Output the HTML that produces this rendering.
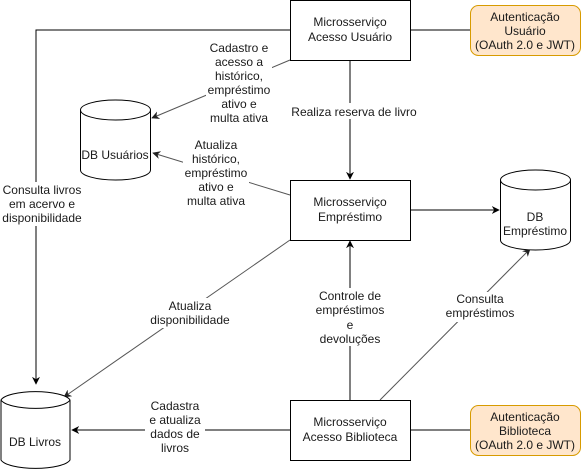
<!DOCTYPE html>
<html><head><meta charset="utf-8"><style>
html,body{margin:0;padding:0;background:#fff}
svg{display:block}
text{font-family:"Liberation Sans",Helvetica,Arial,sans-serif;font-size:12px;fill:#1a1a1a}
</style></head><body>
<svg width="581" height="471" viewBox="0 0 581 471" xmlns="http://www.w3.org/2000/svg">
<defs>
<marker id="a" viewBox="0 0 10 10" refX="9" refY="5" markerWidth="8" markerHeight="8" orient="auto" markerUnits="userSpaceOnUse"><path d="M0,0 L10,5 L0,10 L3,5 z" fill="#000"/></marker>
<marker id="g" viewBox="0 0 10 10" refX="9" refY="5" markerWidth="8" markerHeight="8" orient="auto" markerUnits="userSpaceOnUse"><path d="M0,0 L10,5 L0,10 L3,5 z" fill="#222"/></marker>
</defs>
<g fill="none" stroke="#000" stroke-width="1">
<path d="M410,30 H470"/>
<path d="M290,30 H36 V384" marker-end="url(#a)"/>
<path d="M350,60 V179" marker-end="url(#a)"/>
<path d="M410,210 H499" marker-end="url(#a)"/>
<path d="M350,400 V241" marker-end="url(#a)"/>
<path d="M290,430 H72" marker-end="url(#a)"/>
<path d="M410,430 H470"/>
</g>
<g fill="none" stroke="#555" stroke-width="1">
<path d="M290,60 L152,118" marker-end="url(#g)"/>
<path d="M290,195 L153,153" marker-end="url(#g)"/>
<path d="M290,240 L64,397" marker-end="url(#g)"/>
<path d="M380,400 L530,249" marker-end="url(#g)"/>
</g>
<!-- boxes -->
<rect x="290.5" y="0.5" width="120" height="60" fill="#fff" stroke="#000"/>
<rect x="290.5" y="180.5" width="120" height="60" fill="#fff" stroke="#000"/>
<rect x="290.5" y="400.5" width="120" height="60" fill="#fff" stroke="#000"/>
<rect x="470.5" y="5.5" width="110" height="50" rx="8" fill="#ffe6cc" stroke="#d79b00"/>
<rect x="470.5" y="405.5" width="110" height="50" rx="8" fill="#ffe6cc" stroke="#d79b00"/>
<!-- cylinders -->
<g fill="#fff" stroke="#000">
<path d="M80.5,110 A35,10 0 0 1 150.5,110 V170 A35,10 0 0 1 80.5,170 Z"/>
<path d="M80.5,110 A35,10 0 0 0 150.5,110" fill="none"/>
<path d="M500.5,180 A35,10 0 0 1 570.5,180 V240 A35,10 0 0 1 500.5,240 Z"/>
<path d="M500.5,180 A35,10 0 0 0 570.5,180" fill="none"/>
<path d="M1,400 A35,10 0 0 1 70,400 V460 A35,10 0 0 1 1,460 Z"/>
<path d="M1,400 A35,10 0 0 0 70,400" fill="none"/>
</g>
<g text-anchor="middle">
<text x="350" y="26">Microsserviço</text><text x="350" y="41">Acesso Usuário</text>
<text x="350" y="206">Microsserviço</text><text x="350" y="221">Empréstimo</text>
<text x="350" y="426">Microsserviço</text><text x="350" y="441">Acesso Biblioteca</text>
<text x="525" y="21">Autenticação</text><text x="525" y="35">Usuário</text><text x="525" y="49">(OAuth 2.0 e JWT)</text>
<text x="525" y="421">Autenticação</text><text x="525" y="435">Biblioteca</text><text x="525" y="449">(OAuth 2.0 e JWT)</text>
<text x="115" y="159">DB Usuários</text>
<text x="535" y="221">DB</text><text x="535" y="235">Empréstimo</text>
<text x="35" y="446">DB Livros</text>
</g>
<g text-anchor="middle">
<rect x="206" y="40" width="66" height="86" fill="#fff"/>
<text x="239" y="52">Cadastro e</text><text x="239" y="66">acesso a</text><text x="239" y="80">histórico,</text><text x="239" y="94">empréstimo</text><text x="239" y="108">ativo e</text><text x="239" y="122">multa ativa</text>
<rect x="183" y="137" width="66" height="72" fill="#fff"/>
<text x="216" y="149">Atualiza</text><text x="216" y="163">histórico,</text><text x="216" y="177">empréstimo</text><text x="216" y="191">ativo e</text><text x="216" y="205">multa ativa</text>
<rect x="290" y="103" width="128" height="16" fill="#fff"/>
<text x="354" y="116">Realiza reserva de livro</text>
<rect x="0" y="182" width="84" height="44" fill="#fff"/>
<text x="42" y="194">Consulta livros</text><text x="42" y="208">em acervo e</text><text x="42" y="222">disponibilidade</text>
<rect x="150" y="298" width="82" height="30" fill="#fff"/>
<text x="190" y="310">Atualiza</text><text x="190" y="324">disponibilidade</text>
<rect x="315" y="288" width="70" height="58" fill="#fff"/>
<text x="350" y="300">Controle de</text><text x="350" y="314">empréstimos</text><text x="350" y="329">e</text><text x="350" y="343">devoluções</text>
<rect x="445" y="292" width="70" height="30" fill="#fff"/>
<text x="480" y="303">Consulta</text><text x="480" y="317">empréstimos</text>
<rect x="145" y="420" width="60" height="38" fill="#fff"/>
<text x="175" y="426">Cadastra</text><text x="175" y="440">e atualiza</text><text x="175" y="454">dados de</text><text x="175" y="468" dy="-14"></text>
</g>
<rect x="145" y="398" width="60" height="58" fill="#fff"/>
<g text-anchor="middle">
<text x="175" y="410">Cadastra</text><text x="175" y="424">e atualiza</text><text x="175" y="438">dados de</text><text x="175" y="452">livros</text>
</g>
</svg>
</body></html>
